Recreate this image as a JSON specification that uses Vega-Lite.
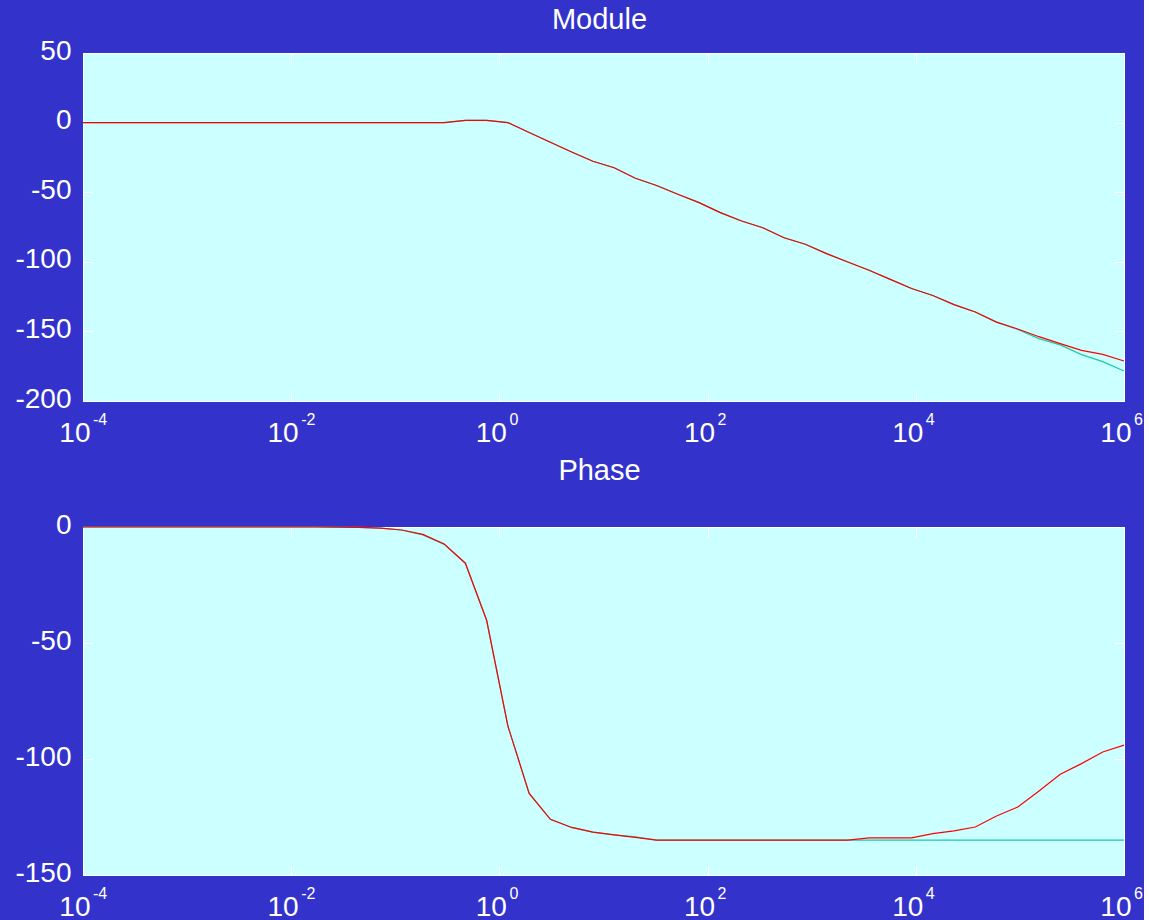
{
  "$schema": "https://vega.github.io/schema/vega-lite/v6.json",
  "autosize": {"type": "pad"},
  "padding": {"left": 14, "top": 5, "right": 0, "bottom": 0},
  "background": "#3333cc",
  "config": {
    "font": "Liberation Sans",
    "view": {"fill": "#ccffff", "stroke": "#ffffff", "strokeWidth": 1},
    "axis": {
      "domainColor": "#ffffff",
      "domainWidth": 1,
      "tickColor": "#ffffff",
      "tickWidth": 1,
      "tickSize": -10,
      "labelColor": "#ffffff",
      "labelFont": "Liberation Sans",
      "labelFontSize": 28,
      "grid": false,
      "labelFlush": false,
      "labelOverlap": false,
      "labelBound": false
    },
    "axisTop": {"labels": false},
    "axisRight": {"labels": false},
    "title": {"color": "#ffffff", "font": "Liberation Sans", "fontSize": 29, "fontWeight": "normal", "anchor": "middle", "baseline": "alphabetic", "dx": -4}
  },
  "datasets": {
    "bode": [
      {"f": 0.0001, "mag_ideal": 0, "mag_approx": 0, "phase_ideal": 0, "phase_approx": 0},
      {"f": 0.00016, "mag_ideal": 0, "mag_approx": 0, "phase_ideal": 0, "phase_approx": 0},
      {"f": 0.000256, "mag_ideal": 0, "mag_approx": 0, "phase_ideal": 0, "phase_approx": 0},
      {"f": 0.00041, "mag_ideal": 0, "mag_approx": 0, "phase_ideal": 0, "phase_approx": 0},
      {"f": 0.000655, "mag_ideal": 0, "mag_approx": 0, "phase_ideal": 0, "phase_approx": 0},
      {"f": 0.00105, "mag_ideal": 0, "mag_approx": 0, "phase_ideal": 0, "phase_approx": 0},
      {"f": 0.00168, "mag_ideal": 0, "mag_approx": 0, "phase_ideal": 0, "phase_approx": 0},
      {"f": 0.00268, "mag_ideal": 0, "mag_approx": 0, "phase_ideal": 0, "phase_approx": 0},
      {"f": 0.00429, "mag_ideal": 0, "mag_approx": 0, "phase_ideal": 0, "phase_approx": 0},
      {"f": 0.00687, "mag_ideal": 0, "mag_approx": 0, "phase_ideal": 0, "phase_approx": 0},
      {"f": 0.011, "mag_ideal": 0, "mag_approx": 0, "phase_ideal": 0, "phase_approx": 0},
      {"f": 0.0176, "mag_ideal": 0, "mag_approx": 0, "phase_ideal": 0, "phase_approx": 0},
      {"f": 0.0281, "mag_ideal": 0, "mag_approx": 0, "phase_ideal": -0.1, "phase_approx": -0.1},
      {"f": 0.045, "mag_ideal": 0, "mag_approx": 0, "phase_ideal": -0.2, "phase_approx": -0.2},
      {"f": 0.072, "mag_ideal": 0, "mag_approx": 0, "phase_ideal": -0.5, "phase_approx": -0.5},
      {"f": 0.115, "mag_ideal": 0, "mag_approx": 0, "phase_ideal": -1.3, "phase_approx": -1.3},
      {"f": 0.184, "mag_ideal": 0, "mag_approx": 0, "phase_ideal": -3.4, "phase_approx": -3.2},
      {"f": 0.295, "mag_ideal": 0, "mag_approx": 0, "phase_ideal": -7.5, "phase_approx": -7.3},
      {"f": 0.471, "mag_ideal": 1.6, "mag_approx": 1.6, "phase_ideal": -15.6, "phase_approx": -15.6},
      {"f": 0.754, "mag_ideal": 1.6, "mag_approx": 1.6, "phase_ideal": -40.2, "phase_approx": -40.2},
      {"f": 1.207, "mag_ideal": 0, "mag_approx": 0, "phase_ideal": -85.8, "phase_approx": -85.8},
      {"f": 1.931, "mag_ideal": -7.1, "mag_approx": -7.1, "phase_ideal": -114.8, "phase_approx": -114.8},
      {"f": 3.089, "mag_ideal": -14.1, "mag_approx": -14.1, "phase_ideal": -126, "phase_approx": -126},
      {"f": 4.942, "mag_ideal": -21.1, "mag_approx": -21.1, "phase_ideal": -129.5, "phase_approx": -129.5},
      {"f": 7.906, "mag_ideal": -27.8, "mag_approx": -27.8, "phase_ideal": -131.5, "phase_approx": -131.5},
      {"f": 12.65, "mag_ideal": -32.4, "mag_approx": -32.4, "phase_ideal": -132.7, "phase_approx": -132.7},
      {"f": 20.24, "mag_ideal": -40, "mag_approx": -40, "phase_ideal": -133.6, "phase_approx": -133.8},
      {"f": 32.37, "mag_ideal": -45.2, "mag_approx": -45.2, "phase_ideal": -135, "phase_approx": -135},
      {"f": 51.79, "mag_ideal": -51.5, "mag_approx": -51.5, "phase_ideal": -135, "phase_approx": -135},
      {"f": 82.86, "mag_ideal": -57.5, "mag_approx": -57.5, "phase_ideal": -135, "phase_approx": -135},
      {"f": 132.6, "mag_ideal": -64.7, "mag_approx": -64.7, "phase_ideal": -135, "phase_approx": -135},
      {"f": 212.1, "mag_ideal": -70.7, "mag_approx": -70.7, "phase_ideal": -135, "phase_approx": -135},
      {"f": 339.3, "mag_ideal": -75.5, "mag_approx": -75.5, "phase_ideal": -135, "phase_approx": -135},
      {"f": 542.9, "mag_ideal": -82.7, "mag_approx": -82.7, "phase_ideal": -135, "phase_approx": -135},
      {"f": 868.5, "mag_ideal": -87.4, "mag_approx": -87.4, "phase_ideal": -135, "phase_approx": -135},
      {"f": 1389, "mag_ideal": -94.1, "mag_approx": -94.1, "phase_ideal": -135, "phase_approx": -135},
      {"f": 2223, "mag_ideal": -100.1, "mag_approx": -100.1, "phase_ideal": -135, "phase_approx": -135},
      {"f": 3556, "mag_ideal": -106.1, "mag_approx": -106.1, "phase_ideal": -135, "phase_approx": -134},
      {"f": 5690, "mag_ideal": -112.6, "mag_approx": -112.6, "phase_ideal": -135, "phase_approx": -134},
      {"f": 9103, "mag_ideal": -119.2, "mag_approx": -119.2, "phase_ideal": -135, "phase_approx": -134},
      {"f": 14563, "mag_ideal": -124.2, "mag_approx": -124.2, "phase_ideal": -135, "phase_approx": -132.2},
      {"f": 23300, "mag_ideal": -130.8, "mag_approx": -130.8, "phase_ideal": -135, "phase_approx": -131},
      {"f": 37276, "mag_ideal": -136.1, "mag_approx": -136.1, "phase_ideal": -135, "phase_approx": -129.3},
      {"f": 59636, "mag_ideal": -143.3, "mag_approx": -143.3, "phase_ideal": -135, "phase_approx": -124.6},
      {"f": 95410, "mag_ideal": -148.6, "mag_approx": -148.3, "phase_ideal": -135, "phase_approx": -120.7},
      {"f": 152642, "mag_ideal": -155.2, "mag_approx": -153.8, "phase_ideal": -135, "phase_approx": -113.8},
      {"f": 244205, "mag_ideal": -159.7, "mag_approx": -158.8, "phase_ideal": -135, "phase_approx": -106.6},
      {"f": 390694, "mag_ideal": -166.7, "mag_approx": -163.6, "phase_ideal": -135, "phase_approx": -102},
      {"f": 625055, "mag_ideal": -171.7, "mag_approx": -166.5, "phase_ideal": -135, "phase_approx": -97},
      {"f": 1000000, "mag_ideal": -178.5, "mag_approx": -171.3, "phase_ideal": -135, "phase_approx": -94}
    ],
    "decades": [
      {"f": 0.0001, "exp": "-4"},
      {"f": 0.01, "exp": "-2"},
      {"f": 1, "exp": "0"},
      {"f": 100, "exp": "2"},
      {"f": 10000, "exp": "4"},
      {"f": 1000000, "exp": "6"}
    ]
  },
  "spacing": 126,
  "bounds": "flush",
  "vconcat": [
    {
      "title": {"text": "Module", "offset": 2},
      "width": 1041,
      "height": 348,
      "data": {"name": "bode"},
      "layer": [
        {
          "mark": {"type": "line", "color": "#1fc9a1", "strokeWidth": 1.2},
          "encoding": {
            "x": {"field": "f", "type": "quantitative", "title": null,
              "scale": {"type": "log", "domain": [0.0001, 1000000], "nice": false},
              "axis": {"orient": "top", "labels": false, "values": [0.0001, 0.01, 1, 100, 10000, 1000000]}},
            "y": {"field": "mag_ideal", "type": "quantitative", "title": null,
              "scale": {"domain": [-200, 50], "nice": false, "zero": false},
              "axis": {"orient": "right", "labels": false, "values": [-200, -150, -100, -50, 0, 50]}}
          }
        },
        {
          "mark": {"type": "line", "color": "#ff0000", "strokeWidth": 1.2},
          "encoding": {
            "x": {"field": "f", "type": "quantitative", "title": null,
              "axis": {"orient": "bottom", "values": [0.0001, 0.01, 1, 100, 10000, 1000000], "labelExpr": "'10'",
                "labelAlign": "right", "labelOffset": 7, "labelBaseline": "alphabetic", "labelPadding": 50}},
            "y": {"field": "mag_approx", "type": "quantitative", "title": null,
              "axis": {"orient": "left", "values": [-200, -150, -100, -50, 0, 50], "labelExpr": "'' + datum.value",
                "labelPadding": 22, "labelBaseline": "middle", "labelOffset": -2}}
          }
        },
        {
          "data": {"name": "decades"},
          "mark": {"type": "text", "align": "left", "baseline": "alphabetic", "dx": 10, "dy": 24, "fontSize": 16, "font": "Liberation Sans", "color": "#ffffff"},
          "encoding": {
            "x": {"field": "f", "type": "quantitative", "axis": null},
            "y": {"datum": -200, "axis": null},
            "text": {"field": "exp"}
          }
        }
      ],
      "resolve": {"axis": {"x": "independent", "y": "independent"}}
    },
    {
      "title": {"text": "Phase", "offset": 25},
      "width": 1041,
      "height": 348,
      "data": {"name": "bode"},
      "layer": [
        {
          "mark": {"type": "line", "color": "#1fc9a1", "strokeWidth": 1.2},
          "encoding": {
            "x": {"field": "f", "type": "quantitative", "title": null,
              "scale": {"type": "log", "domain": [0.0001, 1000000], "nice": false},
              "axis": {"orient": "top", "labels": false, "values": [0.0001, 0.01, 1, 100, 10000, 1000000]}},
            "y": {"field": "phase_ideal", "type": "quantitative", "title": null,
              "scale": {"domain": [-150, 0], "nice": false, "zero": false},
              "axis": {"orient": "right", "labels": false, "values": [-150, -100, -50, 0]}}
          }
        },
        {
          "mark": {"type": "line", "color": "#ff0000", "strokeWidth": 1.2},
          "encoding": {
            "x": {"field": "f", "type": "quantitative", "title": null,
              "axis": {"orient": "bottom", "values": [0.0001, 0.01, 1, 100, 10000, 1000000], "labelExpr": "'10'",
                "labelAlign": "right", "labelOffset": 7, "labelBaseline": "alphabetic", "labelPadding": 50}},
            "y": {"field": "phase_approx", "type": "quantitative", "title": null,
              "axis": {"orient": "left", "values": [-150, -100, -50, 0], "labelExpr": "'' + datum.value",
                "labelPadding": 22, "labelBaseline": "middle", "labelOffset": -2}}
          }
        },
        {
          "data": {"name": "decades"},
          "mark": {"type": "text", "align": "left", "baseline": "alphabetic", "dx": 10, "dy": 24, "fontSize": 16, "font": "Liberation Sans", "color": "#ffffff"},
          "encoding": {
            "x": {"field": "f", "type": "quantitative", "axis": null},
            "y": {"datum": -150, "axis": null},
            "text": {"field": "exp"}
          }
        }
      ],
      "resolve": {"axis": {"x": "independent", "y": "independent"}}
    }
  ]
}
